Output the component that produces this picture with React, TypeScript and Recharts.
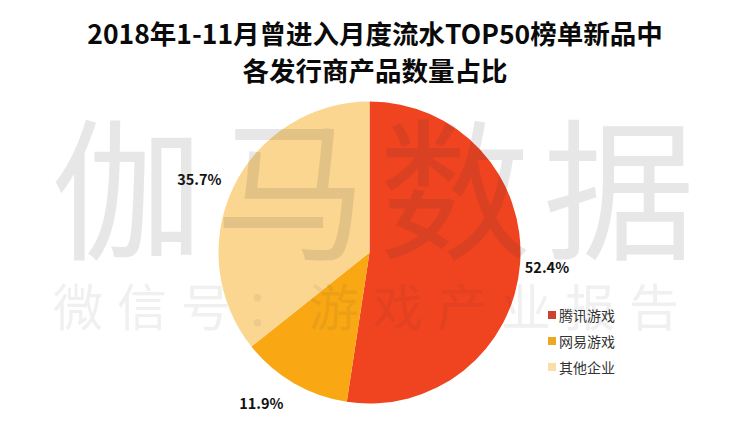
import { PieChart, Pie, Cell, Legend } from "recharts";

const publishers = ["腾讯游戏", "网易游戏", "其他企业"];
const shares = [52.4, 11.9, 35.7];
const sliceColors = ["#F0431F", "#F9A814", "#FBD690"];
const legendColors = ["#CB4332", "#EBA823", "#FADDA8"];
const titleLines = ["2018年1-11月曾进入月度流水TOP50榜单新品中", "各发行商产品数量占比"];
// hand-placed labels in the original sit a little off the radial position
const labelNudgeX = [-2, -18, -8];
const labelNudgeY = [0, -6, 4];

const data = publishers.map((name, i) => ({ name, value: shares[i] }));

const CJK = '"Noto Sans CJK SC", "Noto Sans", sans-serif';
const RAD = Math.PI / 180;

const renderLabel = ({ cx, cy, midAngle, outerRadius, value, index }: any) => {
  const r = outerRadius + 29;
  const x = cx + r * Math.cos(-midAngle * RAD) + labelNudgeX[index];
  const y = cy + r * Math.sin(-midAngle * RAD) + labelNudgeY[index];
  return (
    <text
      x={x}
      y={y}
      fill="#111"
      fontFamily={CJK}
      fontSize={14.5}
      fontWeight={700}
      textAnchor="middle"
      dominantBaseline="central"
    >
      {value.toFixed(1)}%
    </text>
  );
};

const renderLegend = () => (
  <div>
    {publishers.map((name, i) => (
      <div
        key={name}
        style={{ display: "flex", alignItems: "center", height: 26, fontFamily: CJK, fontSize: 14, color: "#333" }}
      >
        <span style={{ width: 8, height: 8, marginRight: 3, background: legendColors[i] }} />
        {name}
      </div>
    ))}
  </div>
);

export default function App() {
  return (
    <div style={{ position: "fixed", left: 0, top: 0, width: 750, height: 431, background: "#fff", overflow: "hidden" }}>
      <PieChart width={750} height={431} margin={{ top: 0, right: 0, bottom: 0, left: 0 }}>
        <Pie
          data={data}
          dataKey="value"
          nameKey="name"
          cx={369.5}
          cy={252.5}
          outerRadius={151}
          startAngle={90}
          endAngle={-270}
          stroke="none"
          label={renderLabel}
          labelLine={false}
          isAnimationActive={false}
        >
          {data.map((d, i) => (
            <Cell key={d.name} fill={sliceColors[i]} />
          ))}
        </Pie>
        <Legend
          layout="vertical"
          content={renderLegend}
          wrapperStyle={{ left: 548, top: 302, width: 90 }}
        />
      </PieChart>
      {titleLines.map((line, i) => (
        <div
          key={line}
          style={{
            position: "absolute",
            left: 0,
            width: 750,
            top: 14 + i * 37,
            textAlign: "center",
            fontFamily: CJK,
            fontWeight: 700,
            fontSize: 26.5,
            lineHeight: "37px",
            whiteSpace: "nowrap",
            color: "#0a0a0a",
          }}
        >
          {line}
        </div>
      ))}
      <div
        style={{
          position: "absolute",
          left: 51,
          top: 92,
          width: 680,
          fontFamily: CJK,
          fontWeight: 400,
          fontSize: 152,
          lineHeight: "180px",
          letterSpacing: 12,
          whiteSpace: "nowrap",
          color: "rgba(60,60,60,0.12)",
          pointerEvents: "none",
        }}
      >
        伽马数据
      </div>
      <div
        style={{
          position: "absolute",
          left: 53,
          top: 274,
          fontFamily: CJK,
          fontWeight: 400,
          fontSize: 50,
          lineHeight: "60px",
          letterSpacing: 14,
          whiteSpace: "nowrap",
          color: "rgba(60,60,60,0.08)",
          pointerEvents: "none",
        }}
      >
        微信号：游戏产业报告
      </div>
    </div>
  );
}
